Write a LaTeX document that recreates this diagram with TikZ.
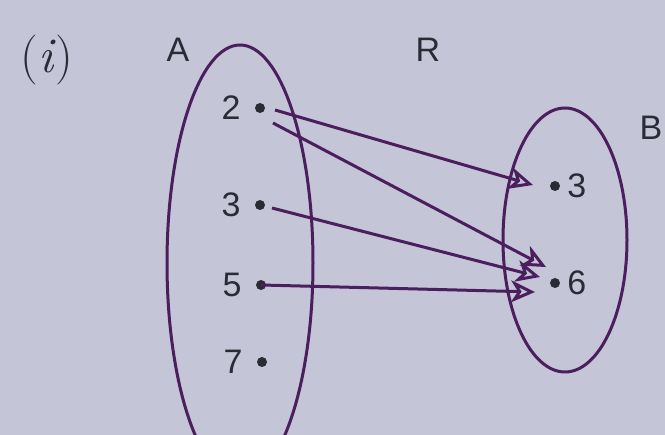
\documentclass[tikz,border=0pt]{standalone}
\usepackage{fontspec}
\newfontfamily\labelfont{Liberation Sans}
\usetikzlibrary{arrows.meta}
\definecolor{paper}{HTML}{C4C5D7}
\definecolor{ink}{HTML}{4B1E5E}
\definecolor{txt}{HTML}{2B2B36}
\begin{document}
\begin{tikzpicture}[
    x=1pt, y=-1pt,
    every node/.style={font=\labelfont\fontsize{34}{40}\selectfont, text=txt},
    every label/.style={inner sep=0pt},
    elem/.style={circle, fill=txt, inner sep=0pt, minimum size=10pt},
    setline/.style={draw=ink, line width=3pt},
    mapsto/.style={draw=ink, line width=3pt,
        -{Stealth[open, length=24pt, width=22pt, inset=7pt]}}
]
\useasboundingbox (0,0) rectangle (665,435);
\fill[paper] (0,0) rectangle (665,435);
\clip (0,0) rectangle (665,435);
% the two sets
\draw[setline] (240,263) ellipse [x radius=73, y radius=218];
\draw[setline] (565,240) ellipse [x radius=62, y radius=132];
% titles
\node[font=\rmfamily\fontsize{50}{58}\selectfont] (part) at (47,60) {(\textit{i})};
\node (setA) at (178,50) {A};
\node (rel) at (428,50) {R};
\node (setB) at (651,128) {B};
% elements of A
\node[elem, label={[label distance=14pt]left:2}] (a2) at (260,108) {};
\node[elem, label={[label distance=14pt]left:3}] (a3) at (260,205) {};
\node[elem, label={[label distance=14pt]left:5}] (a5) at (261,285) {};
\node[elem, label={[label distance=14pt]left:7}] (a7) at (262,362) {};
% elements of B
\node[elem, label={[label distance=7pt]right:3}] (b3) at (555,186) {};
\node[elem, label={[label distance=7pt]right:6}] (b6) at (555,283) {};
% the relation
\draw[mapsto] ([xshift=15pt,yshift=-2pt]a2.center) -- ([xshift=-22pt,yshift=1pt]b3.center);
\draw[mapsto] ([xshift=13pt,yshift=-15pt]a2.center) -- ([xshift=-9pt,yshift=16pt]b6.center);
\draw[mapsto] ([xshift=12pt,yshift=-3pt]a3.center) -- ([xshift=-15pt,yshift=6pt]b6.center);
\draw[mapsto] (a5.center) -- ([xshift=-20pt,yshift=-9pt]b6.center);
\end{tikzpicture}
\end{document}
